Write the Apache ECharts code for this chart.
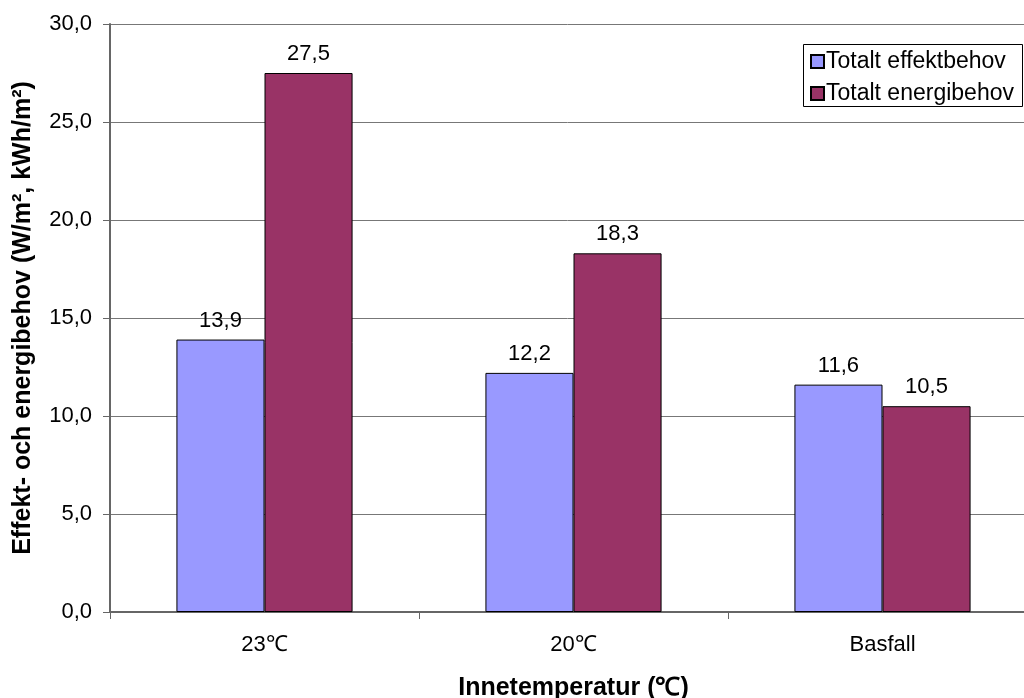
<!DOCTYPE html>
<html>
<head>
<meta charset="utf-8">
<script src="https://cdn.jsdelivr.net/npm/echarts@6/dist/echarts.min.js"></script>
<style>
  html, body { margin: 0; padding: 0; background: #fff; overflow: hidden; }
  #chart { width: 1024px; height: 698px; }
</style>
</head>
<body>
<div id="chart"></div>
<script>
// Categories (indoor temperature cases)
const categories = ['23℃', '20℃', 'Basfall'];
// Total power demand, W/m²
const effektbehov = [13.9, 12.2, 11.6];
// Total energy demand, kWh/m²
const energibehov = [27.5, 18.3, 10.5];
const seriesNames = ['Totalt effektbehov', 'Totalt energibehov'];

const fmt = v => v.toFixed(1).replace('.', ',');
const font = 'Liberation Sans, Arial, sans-serif';
const labelSize = 22;
const legendSize = 23;
const titleSize = 25;

const chart = echarts.init(document.getElementById('chart'));
chart.setOption({
  animation: false,
  backgroundColor: '#fff',
  textStyle: { fontFamily: font },
  grid: { left: 110, top: 24, width: 927, height: 588, containLabel: false, outerBoundsMode: 'none' },
  graphic: [{
    type: 'rect',
    shape: { x: 803.5, y: 44.5, width: 219, height: 62 },
    style: { fill: '#fff', stroke: '#000', lineWidth: 1 },
    z: 10
  }],
  legend: {
    orient: 'vertical',
    left: 810, top: 50,
    padding: 0,
    itemWidth: 13, itemHeight: 13, itemGap: 9,
    icon: 'rect',
    z: 20,
    textStyle: { fontSize: legendSize, color: '#000', fontFamily: font, padding: [0, 0, 0, -3] },
    data: seriesNames
  },
  xAxis: {
    type: 'category',
    data: categories,
    name: 'Innetemperatur (℃)',
    nameLocation: 'middle',
    nameGap: 64,
    nameTextStyle: { fontSize: titleSize, fontWeight: 'bold', color: '#000', fontFamily: font },
    axisLine: { lineStyle: { color: '#666', width: 2 } },
    axisTick: { show: true, length: 7, lineStyle: { color: '#666', width: 1 } },
    axisLabel: { fontSize: labelSize, color: '#000', margin: 22, fontFamily: font }
  },
  yAxis: {
    type: 'value',
    min: 0, max: 30, interval: 5,
    name: 'Effekt- och energibehov (W/m², kWh/m²)',
    nameLocation: 'middle',
    nameGap: 74,
    nameTextStyle: { fontSize: titleSize, fontWeight: 'bold', color: '#000', fontFamily: font },
    axisLine: { show: true, lineStyle: { color: '#666', width: 2 } },
    axisTick: { show: true, length: 7, lineStyle: { color: '#666' } },
    axisLabel: { fontSize: labelSize, color: '#000', margin: 18, formatter: v => fmt(v), fontFamily: font },
    splitLine: { show: true, lineStyle: { color: '#777', width: 1 } }
  },
  series: [
    {
      name: seriesNames[0],
      type: 'bar',
      data: effektbehov,
      barGap: '0%',
      barCategoryGap: '43%',
      itemStyle: { color: '#9999FF', borderColor: '#000', borderWidth: 1 },
      label: { show: true, position: 'top', distance: 8, fontSize: labelSize, color: '#000',
               fontFamily: font, formatter: p => fmt(p.value) }
    },
    {
      name: seriesNames[1],
      type: 'bar',
      data: energibehov,
      barGap: '0%',
      barCategoryGap: '43%',
      itemStyle: { color: '#993366', borderColor: '#000', borderWidth: 1 },
      label: { show: true, position: 'top', distance: 8, fontSize: labelSize, color: '#000',
               fontFamily: font, formatter: p => fmt(p.value) }
    }
  ]
});
</script>
</body>
</html>
